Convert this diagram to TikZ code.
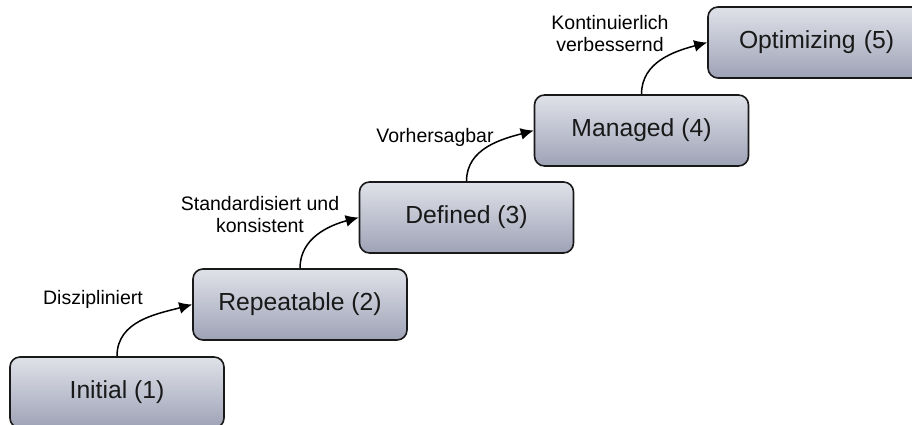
\documentclass[tikz,border=0pt]{standalone}
\usepackage{fontspec}
\setmainfont{Liberation Sans}
\usetikzlibrary{arrows.meta}
\definecolor{boxtop}{RGB}{224,226,233}
\definecolor{boxbot}{RGB}{158,162,182}
\begin{document}
\begin{tikzpicture}[x=1pt,y=1pt,
  level/.style={draw=black!90, line width=1.6pt, rounded corners=10pt,
    top color=boxtop, bottom color=boxbot,
    minimum width=214pt, minimum height=71pt, inner sep=0pt,
    font=\fontsize{24.7}{28}\selectfont, text=black!90},
  lbl/.style={font=\fontsize{19.5}{22}\selectfont, align=center, inner sep=0pt},
  conn/.style={line width=1.5pt, -{Latex[length=13pt,width=12pt]}}]
\useasboundingbox (0,0) rectangle (912,425);
\node[level] (b1) at (117,32.5) {Initial (1)};
\node[level] (b2) at (300,120.5) {Repeatable (2)};
\node[level] (b3) at (466.5,207.5) {Defined (3)};
\node[level] (b4) at (641.5,294.5) {Managed (4)};
\node[level, minimum width=260pt, text width=240pt, align=left] (b5) at (838,382.5) {\hspace*{21pt}Optimizing (5)};
\node[lbl] (l1) at (93,126) {Diszipliniert};
\node[lbl] (l2) at (260,210) {Standardisiert und\\konsistent};
\node[lbl] (l3) at (435,288) {Vorhersagbar};
\node[lbl] (l4) at (610,391.5) {Kontinuierlich\\verbessernd};
\draw[conn] (b1.north) to[out=90,in=195] (b2.west);
\draw[conn] (b2.north) to[out=90,in=195] (b3.west);
\draw[conn] (b3.north) to[out=90,in=195] (b4.west);
\draw[conn] (b4.north) to[out=90,in=195] (b5.west);
\end{tikzpicture}
\end{document}
